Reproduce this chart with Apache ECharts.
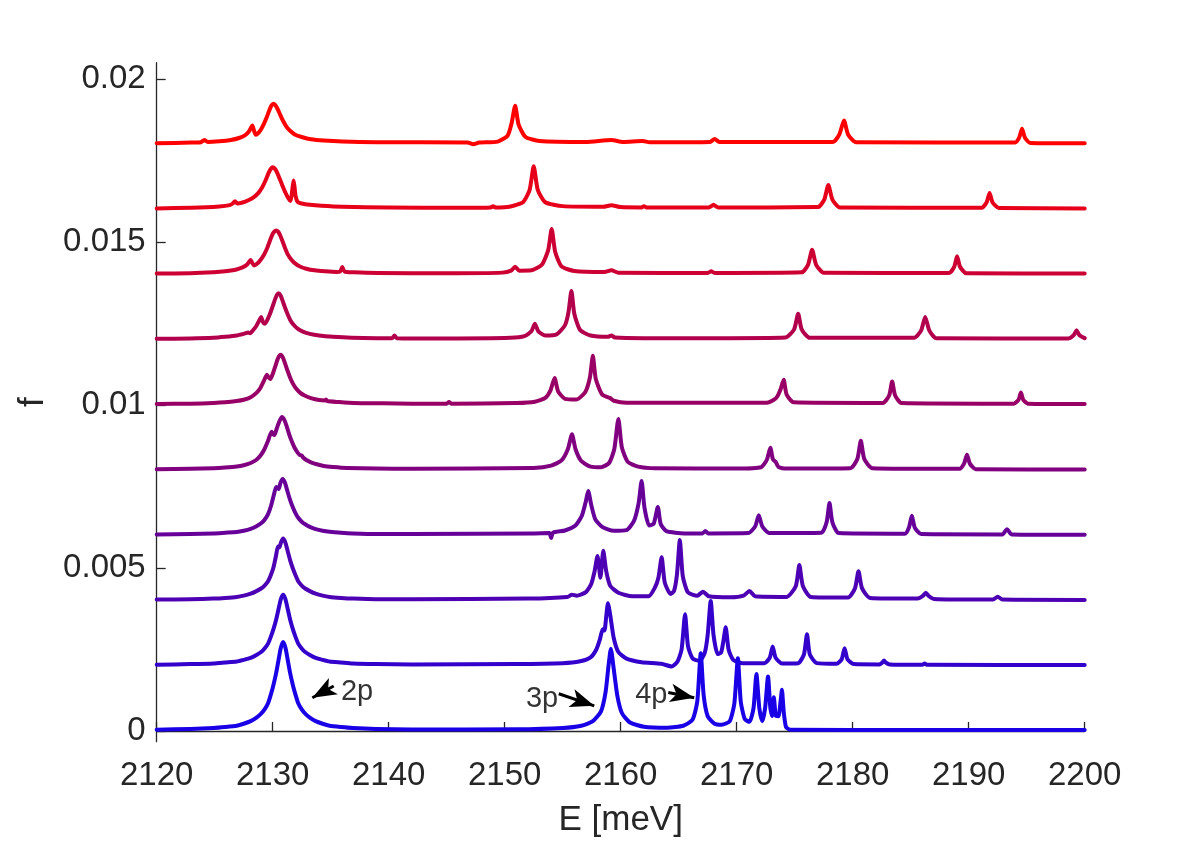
<!DOCTYPE html>
<html><head><meta charset="utf-8">
<script src="https://cdn.jsdelivr.net/npm/echarts@6/dist/echarts.min.js"></script>
<style>html,body{margin:0;padding:0;background:#fff}#c{width:1200px;height:844px}</style>
</head><body><div id="c"></div>
<script>
// vertical offsets of the stacked spectra
const offsets = [0, 0.002, 0.004, 0.006, 0.008, 0.010, 0.012, 0.014, 0.016, 0.018];
// spectrum values are given in units of 1e-4
const unit = 1e-4;
const xTicks = [2120, 2130, 2140, 2150, 2160, 2170, 2180, 2190, 2200];
const yTicks = [0, 0.005, 0.01, 0.015, 0.02];
const yTickLabels = ['0', '0.005', '0.01', '0.015', '0.02'];

// [E (meV), value (1e-4)]
const trace0 = [[2120,0.4],[2122.9,0.6],[2124.9,0.9],[2125.9,1.2],[2126.9,1.6],[2127.5,2.2],[2128.1,3],[2128.6,4.1],[2129,5.3],[2129.3,6.6],[2129.6,8.5],[2129.85,11.3],[2130.07,14.2],[2130.3,17.8],[2130.51,21.9],[2130.7,25.5],[2130.9,27.3],[2131.1,25.5],[2131.29,21.9],[2131.5,17.8],[2131.73,14.2],[2131.95,11.3],[2132.2,8.5],[2132.5,6.6],[2132.8,5.3],[2133.2,4.1],[2133.7,3],[2134.3,2.2],[2134.9,1.6],[2135.9,1.2],[2136.9,0.9],[2138.9,0.6],[2142,0.45],[2151,0.5],[2155,0.9],[2156.6,1.6],[2157.6,3],[2158.3,6],[2158.7,12],[2158.95,20],[2159.15,25.2],[2159.4,19],[2159.7,11],[2160.1,5.5],[2160.8,2.6],[2162,1.3],[2164,1],[2165.4,1.6],[2166.2,3.5],[2166.6,9],[2166.9,23.8],[2167.15,11],[2167.5,4.5],[2168.1,2.2],[2168.7,1.9],[2169.4,3],[2169.8,8.5],[2170.1,22.3],[2170.35,9],[2170.7,3.6],[2171.1,2.8],[2171.45,7],[2171.7,17.5],[2171.95,7],[2172.2,3],[2172.45,7],[2172.7,16.7],[2172.9,7],[2173.05,4.6],[2173.2,10.3],[2173.38,4.6],[2173.6,4.5],[2173.78,9],[2173.9,12.6],[2174.05,6],[2174.25,1.2],[2174.6,0.4],[2185,0.3],[2200,0.3]];
const trace1 = [[2120,0.3],[2122.9,0.5],[2124.9,0.7],[2125.9,1],[2126.9,1.3],[2127.5,1.8],[2128.1,2.4],[2128.6,3.3],[2129,4.2],[2129.3,5.3],[2129.6,6.8],[2129.85,9],[2130.07,11.3],[2130.3,14.2],[2130.51,17.5],[2130.7,20.4],[2130.9,21.8],[2131.1,20.4],[2131.29,17.5],[2131.5,14.2],[2131.73,11.3],[2131.95,9],[2132.2,6.8],[2132.5,5.3],[2132.8,4.2],[2133.2,3.3],[2133.7,2.4],[2134.3,1.8],[2134.9,1.3],[2135.9,1],[2136.9,0.7],[2138.9,0.5],[2142,0.4],[2151,0.5],[2155,0.8],[2156.5,1.4],[2157.4,2.6],[2157.9,5],[2158.2,8],[2158.45,11.2],[2158.6,10.8],[2158.75,15],[2158.9,19.2],[2159.1,15.5],[2159.4,8.5],[2159.8,4.2],[2160.5,2.2],[2161.8,1.1],[2163.5,0.6],[2164.4,-0.2],[2164.9,1.3],[2165.25,5],[2165.55,15.8],[2165.8,6],[2166.2,2.2],[2166.8,1.5],[2167.25,4],[2167.5,9.5],[2167.76,19.9],[2168,9.5],[2168.35,3.6],[2168.65,4],[2168.85,7.5],[2169.05,11.8],[2169.3,5],[2169.7,1.8],[2170.5,0.8],[2172.4,0.8],[2172.85,2.5],[2173.1,5.9],[2173.35,2.5],[2173.9,0.7],[2175.3,0.8],[2175.8,3.5],[2176.06,9.7],[2176.3,3.5],[2176.9,0.8],[2178.6,0.6],[2179.05,2],[2179.3,5.4],[2179.55,2],[2180.1,0.5],[2182.3,0.4],[2182.55,1],[2182.7,1.6],[2182.85,1],[2183.2,0.4],[2186,0.3],[2186.2,0.7],[2186.4,0.3],[2200,0.2]];
const trace2 = [[2120,0.3],[2122.9,0.4],[2124.9,0.6],[2125.9,0.8],[2126.9,1.1],[2127.5,1.5],[2128.1,2.1],[2128.6,2.9],[2129,3.7],[2129.3,4.6],[2129.6,5.9],[2129.85,7.9],[2130.07,10.2],[2130.3,14],[2130.45,16.6],[2130.58,16.3],[2130.72,17.9],[2130.9,19],[2131.1,17.7],[2131.29,15.2],[2131.5,12.4],[2131.73,9.9],[2131.95,7.9],[2132.2,5.9],[2132.5,4.6],[2132.8,3.7],[2133.2,2.9],[2133.7,2.1],[2134.3,1.5],[2134.9,1.1],[2135.9,0.8],[2136.9,0.6],[2138.9,0.4],[2142,0.4],[2152,0.6],[2155.4,1.1],[2155.8,1.8],[2156.2,1.5],[2157,2.6],[2157.45,5],[2157.75,9],[2158,13.7],[2158.25,7],[2158.5,15.3],[2158.75,9],[2159.1,4.5],[2159.8,2.4],[2161,1.3],[2162.4,1.3],[2162.95,4],[2163.25,7],[2163.53,13.3],[2163.8,5.5],[2164.3,2],[2164.6,3],[2164.85,8],[2165.1,18.6],[2165.35,7.5],[2165.8,2.5],[2166.6,1.5],[2167.1,2.7],[2167.6,1.3],[2169.5,1],[2170.6,1.5],[2171.1,2.9],[2171.6,1.3],[2174.3,1.1],[2175.1,4.5],[2175.4,10.9],[2175.7,4.5],[2176.4,1.1],[2179.6,0.9],[2180.2,3.8],[2180.5,9],[2180.8,3.8],[2181.5,0.8],[2185.6,0.6],[2186.05,1.4],[2186.3,2.4],[2186.55,1.4],[2187,0.5],[2192.1,0.3],[2192.5,1.2],[2192.9,0.3],[2200,0.2]];
const trace3 = [[2120,0.3],[2122.9,0.4],[2124.9,0.6],[2125.9,0.8],[2126.9,1],[2127.5,1.4],[2128.1,2],[2128.6,2.8],[2129,3.7],[2129.3,4.8],[2129.6,6.5],[2129.85,9],[2130.07,12],[2130.3,14.8],[2130.42,14.5],[2130.52,14.2],[2130.68,16.2],[2130.86,17.3],[2131.05,16.2],[2131.25,13.8],[2131.47,11.2],[2131.7,8.9],[2131.95,6.9],[2132.2,5.4],[2132.5,4.2],[2132.8,3.4],[2133.2,2.6],[2133.7,1.9],[2134.3,1.4],[2134.9,1.1],[2135.9,0.8],[2136.9,0.6],[2138.9,0.4],[2142,0.4],[2152.5,0.6],[2153.85,0.7],[2154,-0.8],[2154.15,0.8],[2155.2,1.5],[2156.1,3],[2156.65,6],[2157,10.5],[2157.2,13.6],[2157.45,9.5],[2157.8,5],[2158.4,2.6],[2159.4,1.4],[2160.5,1.6],[2161.15,4.5],[2161.55,10],[2161.8,16.7],[2162.05,8.5],[2162.45,3],[2162.85,3.6],[2163.2,8.7],[2163.45,3.5],[2163.95,1.3],[2165.5,0.6],[2167.05,0.6],[2167.3,1.3],[2167.55,0.6],[2171,0.7],[2171.6,2.8],[2171.9,6.2],[2172.2,2.8],[2172.8,0.7],[2177.3,0.8],[2177.75,4],[2178,9.9],[2178.25,4],[2178.8,0.7],[2184.5,0.5],[2184.85,2.4],[2185.1,6],[2185.35,2.4],[2185.9,0.4],[2192.9,0.3],[2193.3,1.9],[2193.7,0.3],[2200,0.2]];
const trace4 = [[2120,0.3],[2122.9,0.4],[2124.9,0.6],[2125.9,0.8],[2126.9,1.1],[2127.5,1.5],[2128.1,2.2],[2128.6,3.2],[2128.95,4.5],[2129.3,6.5],[2129.6,9],[2129.9,11.8],[2130.05,11],[2130.15,10.8],[2130.35,12.8],[2130.58,15],[2130.8,16.3],[2131,15.4],[2131.2,13.5],[2131.42,11],[2131.65,8.8],[2131.9,6.8],[2132.15,5.4],[2132.35,4.6],[2132.5,4.5],[2132.65,3.8],[2132.9,3.1],[2133.3,2.4],[2133.8,1.8],[2134.4,1.3],[2135.2,1],[2136.4,0.7],[2138.9,0.5],[2142,0.4],[2152.5,0.7],[2154,1.4],[2154.9,3],[2155.45,6.5],[2155.8,11],[2156.1,6.5],[2156.6,2.8],[2157.4,1.1],[2158.3,0.9],[2159,2.2],[2159.45,6.5],[2159.8,15.7],[2160.1,7],[2160.6,2.6],[2161.5,1.1],[2163,0.6],[2170,0.5],[2172.1,0.9],[2172.6,3.2],[2172.9,6.9],[2173.12,3.3],[2173.35,2.6],[2173.6,1],[2174.4,0.5],[2179.8,0.6],[2180.4,3.4],[2180.7,9],[2181,3.4],[2181.7,0.6],[2189.2,0.4],[2189.6,2],[2189.85,4.7],[2190.1,2],[2190.6,0.3],[2200,0.2]];
const trace5 = [[2120,0.3],[2122.9,0.4],[2124.9,0.6],[2125.9,0.8],[2126.9,1.2],[2127.5,1.6],[2128.1,2.4],[2128.6,3.7],[2128.95,5.3],[2129.25,7.5],[2129.5,9.3],[2129.65,8.4],[2129.8,8],[2130,9.5],[2130.2,11.6],[2130.4,13.8],[2130.55,15],[2130.7,15.4],[2130.88,14.5],[2131.05,12.9],[2131.25,10.8],[2131.48,8.6],[2131.72,6.7],[2132,5.1],[2132.35,3.8],[2132.75,2.9],[2133.3,2.1],[2134,1.5],[2134.5,1.4],[2134.6,1.7],[2134.7,1.2],[2135.7,0.9],[2137,0.6],[2139.5,0.5],[2142,0.4],[2145,0.4],[2145.2,0.9],[2145.4,0.4],[2151,0.6],[2152.6,1],[2153.5,2.2],[2153.95,4.5],[2154.3,8.3],[2154.6,4.2],[2155.2,1.9],[2156.2,1.7],[2156.95,4],[2157.35,8.5],[2157.6,15.1],[2157.85,8],[2158.4,3.2],[2159.1,2.1],[2159.4,1.3],[2160.5,0.7],[2172.6,0.7],[2173.2,1.6],[2173.5,2.6],[2173.8,5],[2174.05,7.7],[2174.3,3.2],[2174.9,0.8],[2182.6,0.6],[2183.15,3],[2183.4,7.2],[2183.65,3],[2184.2,0.6],[2193.9,0.4],[2194.3,1.6],[2194.5,3.8],[2194.7,1.6],[2195.1,0.4],[2200,0.3]];
const trace6 = [[2120,0.3],[2122.9,0.4],[2124.9,0.6],[2125.9,0.9],[2126.9,1.3],[2127.5,1.8],[2127.9,2.2],[2128.05,2],[2128.3,2.9],[2128.6,4.3],[2128.85,6],[2129,7],[2129.15,5.5],[2129.3,4.9],[2129.5,5.8],[2129.75,7.8],[2129.98,10.1],[2130.2,12.4],[2130.35,13.7],[2130.5,14.3],[2130.68,13.6],[2130.85,12],[2131.05,10],[2131.28,7.9],[2131.52,6],[2131.8,4.6],[2132.15,3.4],[2132.6,2.5],[2133.2,1.8],[2134,1.3],[2135.2,0.9],[2136.8,0.6],[2139,0.5],[2140.3,0.5],[2140.5,1.3],[2140.7,0.5],[2145,0.4],[2150.5,0.6],[2151.7,1.1],[2152.3,2.6],[2152.6,4.9],[2152.9,2.6],[2153.5,1.3],[2154.5,1.7],[2155.2,4.5],[2155.5,8.5],[2155.75,15],[2156,8],[2156.5,3],[2157.4,1.3],[2158.9,0.9],[2159.2,1.3],[2159.5,0.7],[2162,0.5],[2168,0.5],[2174.2,0.7],[2174.95,3.2],[2175.3,8],[2175.6,3.2],[2176.3,0.6],[2185.3,0.6],[2185.9,2.9],[2186.25,7],[2186.6,2.9],[2187.2,0.5],[2198.6,0.4],[2199.05,1.4],[2199.3,2.9],[2199.55,1.4],[2200,0.5]];
const trace7 = [[2120,0.3],[2122.9,0.4],[2124.9,0.7],[2125.9,1],[2126.8,1.5],[2127.4,2.2],[2127.8,3.1],[2128.1,4.5],[2128.25,3.5],[2128.4,2.8],[2128.65,3.3],[2128.95,4.5],[2129.25,6.1],[2129.5,7.9],[2129.75,10.3],[2129.95,12.1],[2130.12,13.1],[2130.3,13.5],[2130.48,13.1],[2130.65,12],[2130.85,10.2],[2131.07,8.1],[2131.3,6.2],[2131.58,4.7],[2131.9,3.5],[2132.35,2.5],[2132.9,1.8],[2133.6,1.3],[2134.5,1],[2135.5,0.8],[2135.8,0.9],[2136,2.3],[2136.2,0.9],[2137,0.7],[2139,0.5],[2145,0.4],[2149.8,0.6],[2150.55,1.2],[2150.9,2.4],[2151.25,1.2],[2152.3,1.3],[2153.2,3],[2153.75,7.5],[2154.05,14],[2154.35,7],[2154.9,2.5],[2156,1.1],[2158.6,0.8],[2159.2,1.3],[2159.8,0.6],[2167.5,0.5],[2167.8,1],[2168.1,0.5],[2175.6,0.7],[2176.15,3],[2176.5,7.6],[2176.85,3],[2177.5,0.6],[2188.3,0.5],[2188.75,2.4],[2189,5.6],[2189.25,2.4],[2189.8,0.4],[2200,0.3]];
const trace8 = [[2120,0.3],[2123,0.5],[2125.4,0.9],[2126.3,1.3],[2126.55,1.8],[2126.75,2.5],[2126.95,1.8],[2127.4,2.1],[2127.9,2.8],[2128.35,3.7],[2128.75,5],[2129.1,6.8],[2129.4,9],[2129.65,11.2],[2129.83,12.4],[2130,12.9],[2130.18,12.5],[2130.38,11.3],[2130.6,9.4],[2130.85,7.2],[2131.1,5.1],[2131.35,3.4],[2131.52,2.6],[2131.62,4],[2131.72,7],[2131.8,8.9],[2131.88,7],[2131.98,4],[2132.15,2.3],[2132.5,1.8],[2133.2,1.4],[2134.2,1.1],[2136,0.8],[2140,0.6],[2146,0.5],[2148.8,0.6],[2149,1],[2149.2,0.6],[2150.5,0.9],[2151.6,2.3],[2152.15,6],[2152.5,13.2],[2152.85,6],[2153.5,2.2],[2155,1],[2158.5,0.8],[2159.2,1.3],[2160,0.7],[2161.8,0.6],[2162,1],[2162.2,0.6],[2167.6,0.6],[2168,1.4],[2168.4,0.6],[2177,0.7],[2177.55,3],[2177.9,7.5],[2178.25,3],[2178.9,0.6],[2191.1,0.5],[2191.55,2.2],[2191.8,5],[2192.05,2.2],[2192.6,0.4],[2200,0.3]];
const trace9 = [[2120,0.3],[2123,0.5],[2123.8,0.6],[2124.1,1.3],[2124.4,0.7],[2125.4,0.9],[2126.4,1.3],[2127.1,1.9],[2127.6,2.7],[2127.95,3.9],[2128.25,5.7],[2128.4,4],[2128.55,2.9],[2128.75,3.4],[2129,4.6],[2129.25,6.3],[2129.5,8.4],[2129.72,10.5],[2129.9,11.9],[2130.06,12.4],[2130.22,12],[2130.42,10.8],[2130.65,9],[2130.9,7.1],[2131.18,5.4],[2131.5,4.1],[2131.9,3],[2132.5,2.2],[2133.3,1.5],[2134.4,1.1],[2136,0.8],[2139,0.6],[2146.8,0.5],[2147.3,0],[2147.8,0.5],[2149.4,0.8],[2150.25,2.6],[2150.6,6.5],[2150.9,11.8],[2151.2,6],[2151.8,2.2],[2153,1],[2157,0.7],[2159.2,1.3],[2160.2,0.7],[2161.9,1],[2162.5,0.6],[2167.7,0.7],[2168.1,1.6],[2168.5,0.7],[2178.3,0.7],[2178.85,3],[2179.25,7.3],[2179.6,3],[2180.3,0.6],[2194,0.5],[2194.35,2],[2194.6,4.7],[2194.85,2],[2195.3,0.4],[2200,0.3]];
const traces = [trace0, trace1, trace2, trace3, trace4, trace5, trace6, trace7, trace8, trace9];

// annotations (data coordinates)
const annotText = ['2p', '3p', '4p'];
const annotTextAt = [[2137.27, 0.00120], [2153.22, 0.00099], [2162.64, 0.00109]];
const arrowFrom = [[2135.26, 0.00138], [2154.66, 0.00114], [2164.10, 0.00118]];
const arrowTo = [[2133.42, 0.00102], [2157.72, 0.00077], [2166.34, 0.00102]];

const colors = ['#1a00e6','#3300cc','#4d00b3','#660099','#800080','#990066','#b3004d','#cc0033','#e6001a','#ff0000'];
const FONT = "'Liberation Sans', Arial, Helvetica, sans-serif";
const INK = '#262626';

const lineSeries = traces.map((t, i) => ({
  type: 'line',
  data: t.map(p => [p[0], offsets[i] + p[1] * unit]),
  showSymbol: false,
  symbol: 'none',
  smooth: 0.2,
  lineStyle: { width: 4, color: colors[i], join: 'round', cap: 'round' },
  itemStyle: { color: colors[i] },
  silent: true
})).reverse();

const annotSeries = {
  type: 'scatter',
  symbolSize: 0,
  silent: true,
  z: 20,
  data: annotText.map((s, k) => ({ name: s, value: annotTextAt[k] })),
  label: { show: true, position: 'inside', formatter: '{b}', fontSize: 29, color: '#000',
    textBorderWidth: 0, textBorderColor: 'transparent', fontFamily: FONT },
  markLine: {
    silent: true,
    symbol: ['none', 'arrow'],
    symbolSize: [14, 24],
    label: { show: false },
    lineStyle: { color: '#000', width: 3, type: 'solid' },
    itemStyle: { color: '#000' },
    data: arrowFrom.map((a, k) => [{ coord: a }, { coord: arrowTo[k] }])
  }
};

const chart = echarts.init(document.getElementById('c'), null, { renderer: 'canvas' });
chart.setOption({
  animation: false,
  backgroundColor: '#fff',
  grid: { left: 156.7, right: 115.3, top: 62.7, bottom: 102.3, containLabel: false },
  xAxis: {
    type: 'value', min: 2120, max: 2200, interval: 10,
    name: 'E [meV]', nameLocation: 'middle', nameGap: 61,
    nameTextStyle: { fontSize: 35, color: INK, fontFamily: FONT },
    axisLine: { show: true, lineStyle: { color: INK, width: 1.3 } },
    axisTick: { show: true, inside: true, length: 9, lineStyle: { color: INK, width: 1.3 }, customValues: xTicks },
    axisLabel: { fontSize: 33, color: INK, fontFamily: FONT, margin: 18, customValues: xTicks, formatter: v => String(v) },
    splitLine: { show: false }
  },
  yAxis: {
    type: 'value', min: -0.00033, max: 0.0205,
    name: 'f', nameLocation: 'middle', nameGap: 106, nameRotate: 90,
    nameTextStyle: { fontSize: 35, color: INK, fontFamily: FONT },
    axisLine: { show: true, lineStyle: { color: INK, width: 1.3 } },
    axisTick: { show: true, inside: true, length: 9, lineStyle: { color: INK, width: 1.3 }, customValues: yTicks },
    axisLabel: { fontSize: 33, color: INK, fontFamily: FONT, margin: 11, customValues: yTicks,
      formatter: v => { const k = yTicks.indexOf(v); return k >= 0 ? yTickLabels[k] : String(v); } },
    splitLine: { show: false }
  },
  series: [...lineSeries, annotSeries]
});
</script></body></html>
